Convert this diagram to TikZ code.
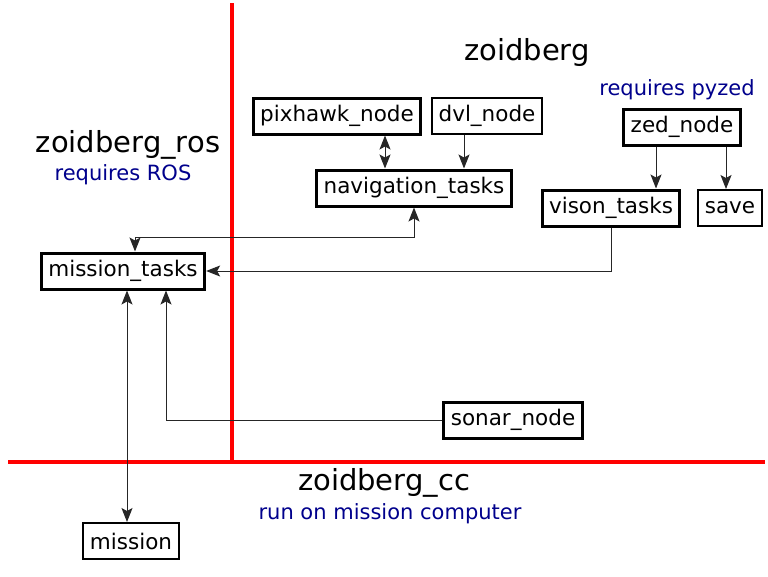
\documentclass[tikz,border=0pt]{standalone}
\usepackage{fontspec}
\setmainfont{DejaVu Sans}
\usetikzlibrary{calc, positioning, arrows.meta}
\definecolor{notecol}{RGB}{0,0,140}
\tikzset{head/.tip={Stealth[length=14pt,width=11pt,inset=3pt]}}

\begin{document}
\begin{tikzpicture}[x=1pt, y=-1pt,
    box/.style={draw, line width=3pt, minimum height=36pt, inner xsep=7pt, font=\fontsize{21.5}{25}\selectfont},
    thinbox/.style={box, line width=2pt},
    title/.style={font=\fontsize{29}{34}\selectfont},
    note/.style={text=notecol, font=\fontsize{21}{25}\selectfont},
    border/.style={red, line width=4pt},
    link/.style={black!85, line width=1pt}]
            \useasboundingbox (0,0) rectangle (768,576);

            % partition lines
            \draw[border] (232,3) -- (232,462);
            \draw[border] (8,462) -- (765,462);

            \node[title] (zoid) at (527,52) {zoidberg};
            \node[title] (ros) at (128,145) {zoidberg\_ros};
            \node[note, below=-2pt of ros, xshift=-5pt] (rosnote) {requires ROS};
            \node[note] (pyzed) at (677,90) {requires pyzed};
            \node[title] (cc) at (384,483) {zoidberg\_cc};
            \node[note, below=-1pt of cc, xshift=6pt] (ccnote) {run on mission computer};

            \node[box] (pixhawk) at (337,116) {pixhawk\_node};
            \node[thinbox] (dvl) at (487,116) {dvl\_node};
            \node[box] (navigation) at (414,188) {navigation\_tasks};
            \node[box] (zed) at (682,127) {zed\_node};
            \node[box] (vison) at (611,208) {vison\_tasks};
            \node[thinbox] (save) at (730,208) {save};
            \node[box] (mtasks) at (123,271) {mission\_tasks};
            \node[box] (sonar) at (513,420) {sonar\_node};
            \node[thinbox] (mission) at (131,541) {mission};

            \coordinate (px) at ($(pixhawk.south)+(48,0)$);
            \draw[link, head-head] (px) -- (px |- navigation.north);
            \coordinate (dv) at ($(dvl.south)+(-23,0)$);
            \draw[link, -head] (dv) -- (dv |- navigation.north);

            \coordinate (zv) at ($(zed.south)+(-26,0)$);
            \draw[link, -head] (zv) -- (zv |- vison.north);
            \coordinate (zs) at ($(zed.south)+(44,0)$);
            \draw[link, -head] (zs) -- (zs |- save.north);

            \draw[link, head-head] (navigation.south) -- ++(0,30) -| ($(mtasks.north)+(12,0)$);
            \draw[link, -head] (vison.south) |- (mtasks.east);
            \draw[link, -head] (sonar.west) -| ($(mtasks.south)+(43,0)$);
            \draw[link, head-head] ($(mtasks.south)+(4,0)$) -- ($(mission.north)+(-4,0)$);
        \end{tikzpicture}
\end{document}
